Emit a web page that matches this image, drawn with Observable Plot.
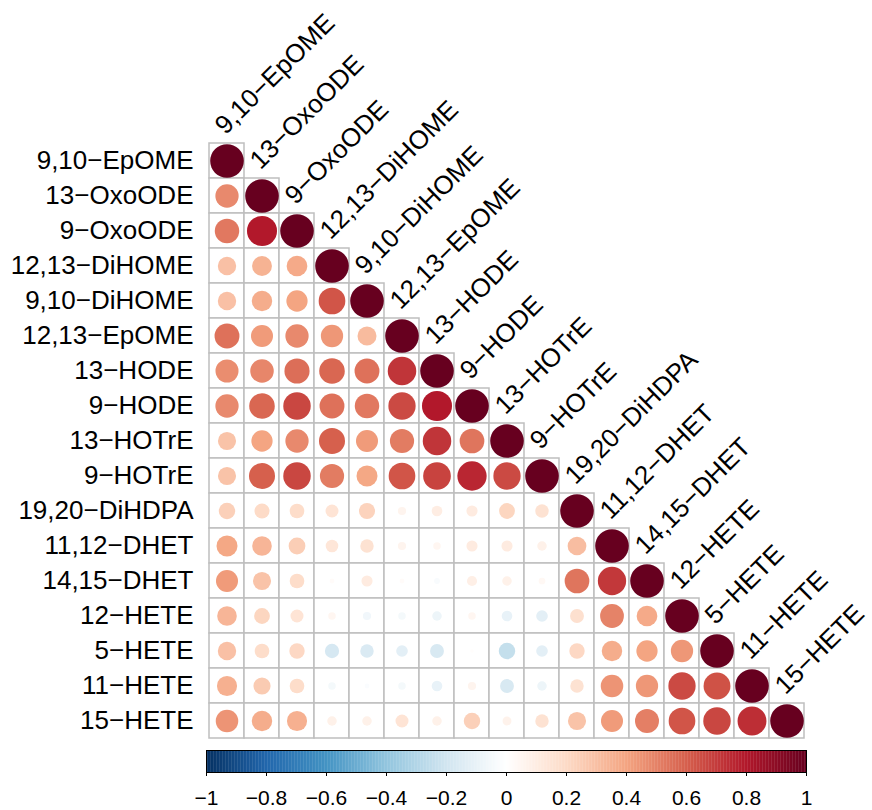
<!DOCTYPE html>
<html>
<head>
<meta charset="utf-8">
<script src="https://cdn.jsdelivr.net/npm/d3@7"></script>
<script src="https://cdn.jsdelivr.net/npm/@observablehq/plot@0.6"></script>
<style>
  html, body { margin: 0; padding: 0; background: white; }
  #chart svg { display: block; }
</style>
</head>
<body>
<div id="chart"></div>
<script>
const vars = ["9,10-EpOME", "13-OxoODE", "9-OxoODE", "12,13-DiHOME", "9,10-DiHOME", "12,13-EpOME",
  "13-HODE", "9-HODE", "13-HOTrE", "9-HOTrE", "19,20-DiHDPA", "11,12-DHET", "14,15-DHET",
  "12-HETE", "5-HETE", "11-HETE", "15-HETE"];

// lower-triangle correlation rows (row i: columns 0..i)
const corrRows = [
  [1],
  [0.48, 1],
  [0.53, 0.80, 1],
  [0.30, 0.35, 0.38, 1],
  [0.30, 0.37, 0.40, 0.63, 1],
  [0.55, 0.43, 0.48, 0.44, 0.32, 1],
  [0.47, 0.49, 0.56, 0.58, 0.55, 0.72, 1],
  [0.48, 0.58, 0.67, 0.55, 0.53, 0.66, 0.80, 1],
  [0.29, 0.40, 0.48, 0.60, 0.43, 0.52, 0.72, 0.54, 1],
  [0.29, 0.60, 0.67, 0.52, 0.39, 0.63, 0.68, 0.76, 0.66, 1],
  [0.24, 0.20, 0.19, 0.15, 0.23, 0.06, 0.10, 0.11, 0.22, 0.16, 1],
  [0.39, 0.34, 0.25, 0.14, 0.16, 0.06, 0.05, 0.11, 0.11, 0.08, 0.31, 1],
  [0.43, 0.29, 0.19, 0.02, 0.11, 0.02, -0.03, 0.09, 0.08, 0.04, 0.54, 0.71, 1],
  [0.34, 0.22, 0.15, 0.05, -0.06, -0.05, -0.08, 0.05, -0.10, -0.12, 0.17, 0.50, 0.38, 1],
  [0.30, 0.19, 0.21, -0.18, -0.16, -0.12, -0.17, 0.01, -0.24, -0.12, 0.21, 0.37, 0.40, 0.44, 1],
  [0.36, 0.26, 0.19, -0.05, -0.02, -0.05, -0.10, 0.06, -0.17, -0.08, 0.16, 0.45, 0.44, 0.66, 0.64, 1],
  [0.45, 0.37, 0.36, 0.08, 0.08, 0.15, 0.08, 0.24, 0.07, 0.16, 0.29, 0.43, 0.51, 0.63, 0.67, 0.74, 1]
];

const colorDomain = [-1, -0.8, -0.6, -0.4, -0.2, 0, 0.2, 0.4, 0.6, 0.8, 1];
const colorRange = ["#053061", "#2166AC", "#4393C3", "#92C5DE", "#D1E5F0", "#FFFFFF",
  "#FDDBC7", "#F4A582", "#D6604D", "#B2182B", "#67001F"];
const barTicks = [-1, -0.8, -0.6, -0.4, -0.2, 0, 0.2, 0.4, 0.6, 0.8, 1];

const cells = [];
corrRows.forEach((row, i) => row.forEach((v, j) => cells.push({row: vars[i], col: vars[j], v})));

const fmt = s => s.replace(/-/g, "\u2212");
const fontFamily = "'Liberation Sans', Arial, sans-serif";
const colorScale = {type: "linear", domain: colorDomain, range: colorRange};

const main = Plot.plot({
  width: 872, height: 745,
  marginLeft: 206.5, marginRight: 66.5, marginTop: 140.5, marginBottom: 5.5,
  style: {fontFamily, fontSize: "26px", background: "white", overflow: "visible", color: "black"},
  x: {domain: vars, padding: 0, axis: null},
  y: {domain: vars, padding: 0},
  color: colorScale,
  r: {type: "sqrt", domain: [0, 1], range: [0, 16.8]},
  marks: [
    Plot.cell(cells, {x: "col", y: "row", fill: "white", stroke: "#bebebe", strokeWidth: 1.5, inset: 0}),
    Plot.dot(cells, {x: "col", y: "row", r: d => Math.abs(d.v), fill: "v", stroke: null}),
    Plot.axisY({tickSize: 0, tickPadding: 13.5, tickFormat: fmt, label: null}),
    Plot.text(vars, {x: d => d, y: d => d, text: fmt, rotate: -45, textAnchor: "start",
      lineAnchor: "bottom", dx: -1.5, dy: -25.6, fill: "black"})
  ]
});

const steps = d3.range(0, 400).map(i => -1 + i * 0.005);
const bar = Plot.plot({
  width: 872, height: 65,
  marginLeft: 206, marginRight: 66, marginTop: 5, marginBottom: 38,
  style: {fontFamily, fontSize: "21px", background: "white", overflow: "visible", color: "black"},
  x: {domain: [-1, 1]},
  color: colorScale,
  marks: [
    Plot.rect(steps, {x1: d => d, x2: d => d + 0.006, fill: d => d + 0.0025}),
    Plot.frame({stroke: "black"}),
    Plot.axisX({ticks: barTicks, tickSize: 4, tickPadding: 13.5, label: null,
      tickFormat: d => d === 0 ? "0" : String(d).replace("-", "\u2212")})
  ]
});

const chart = document.getElementById("chart");
chart.appendChild(main);
chart.appendChild(bar);
</script>
</body>
</html>
